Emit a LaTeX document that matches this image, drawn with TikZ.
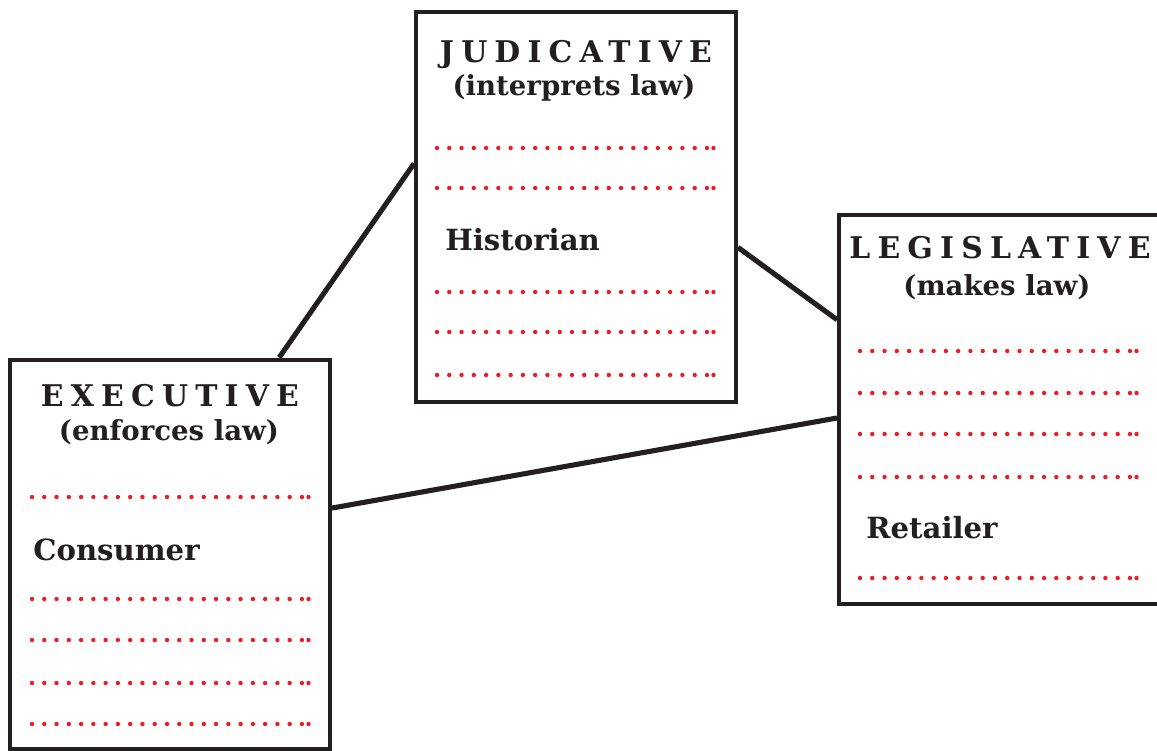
\documentclass[tikz,border=0pt]{standalone}
\usepackage{fontspec}
\setmainfont{DejaVu Serif}
\newfontfamily\spacedfont[LetterSpace=24]{DejaVu Serif}
\usepackage{tikz}
\usetikzlibrary{positioning}
\definecolor{dotred}{RGB}{237,28,36}
\definecolor{inkblack}{RGB}{35,31,32}
\newcommand{\dotrow}[2]{%
  \foreach \k in {0,...,22} \fill[dotred] (#1+\k*12.27,#2) circle (1.25pt);
  \fill[dotred] (#1+276.5,#2) circle (1.25pt);}

\begin{document}
\begin{tikzpicture}[x=0.02cm, y=-0.02cm,
    branchbox/.style={draw=inkblack, line width=2.3pt, fill=white, minimum width=6.4cm, minimum height=7.8cm, inner sep=0pt},
    titletext/.style={anchor=base, text=inkblack, font=\spacedfont\fontsize{17}{19}\selectfont\bfseries},
    subtext/.style={anchor=base, text=inkblack, font=\fontsize{15.7}{18}\selectfont\bfseries},
    roletext/.style={anchor=base west, inner sep=0pt, text=inkblack, font=\fontsize{16.6}{18}\selectfont\bfseries},
    link/.style={draw=inkblack, line width=2.9pt}]
    \useasboundingbox (0,0) rectangle (1157,751);
    % branches
    \node[branchbox] (jud) at (576,207) {};
    \node[branchbox] (leg) at (999,409.5) {};
    \node[branchbox] (exe) at (170,554.5) {};
    \draw[link] (exe.61.3) -- (jud.165.5);
    \draw[link] (jud.-14.2) -- (leg.151.1);
    \draw[link] (exe.16.4) -- (leg.183);
    % judicative
    \node[titletext] (judtitle) at (576,62) {JUDICATIVE};
    \node[subtext] (judsub) at (574,95) {(interprets law)};
    \node[roletext] (historian) at (445,250) {Historian};
    \foreach \y in {148,188,292,332,375} \dotrow{437}{\y};
    % legislative
    \node[titletext] (legtitle) at (1000,258) {LEGISLATIVE};
    \node[subtext] (legsub) at (997,295) {(makes law)};
    \node[roletext] (retailer) at (866,538) {Retailer};
    \foreach \y in {351,393,434,477,578} \dotrow{860}{\y};
    % executive
    \node[titletext] (exetitle) at (170,406) {EXECUTIVE};
    \node[subtext] (exesub) at (169,440) {(enforces law)};
    \node[roletext] (consumer) at (33,560) {Consumer};
    \foreach \y in {497,599,640,683,724} \dotrow{32}{\y};
  \end{tikzpicture}
\end{document}
